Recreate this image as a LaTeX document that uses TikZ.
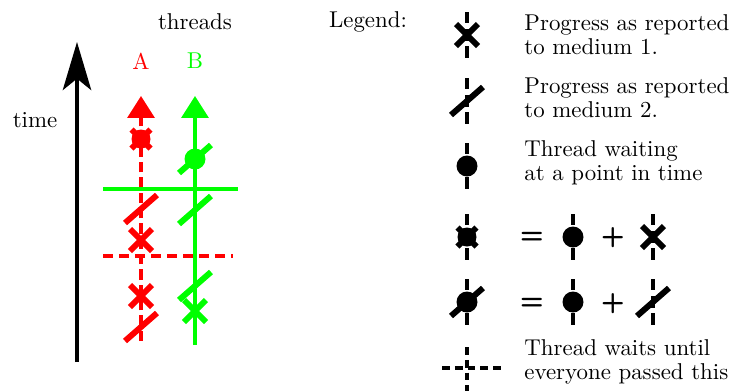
\documentclass[tikz,border=0pt]{standalone}
\usepackage{xcolor}
\usetikzlibrary{arrows.meta,positioning}
\definecolor{ThreadRed}{HTML}{FF0000}
\definecolor{ThreadGreen}{HTML}{00FF00}

\tikzset{
  thread/.style={line width=1.4pt},
  dashed thread/.style={thread, dash pattern=on 4.5pt off 2.2pt},
  marker/.style={line width=2.6pt},
  stub/.style={line width=1.6pt, dash pattern=on 5pt off 2.5pt},
  pics/xmark/.style={code={
    \draw[marker] (-11,-11) -- (11,11) (-11,11) -- (11,-11);
  }},
  pics/slashmark/.style={code={
    \draw[marker] (-16,14) -- (16,-14);
  }},
  pics/waitdot/.style={code={
    \fill (0,0) circle (10.5);
  }},
  pics/waitx/.style={code={
    \fill (0,0) circle (9.5);
    \draw[marker] (-9.5,-9.5) -- (9.5,9.5) (-9.5,9.5) -- (9.5,-9.5);
  }},
  pics/waitslash/.style={code={
    \fill (0,0) circle (10.5);
    \draw[marker] (-16,14) -- (16,-14);
  }},
  pics/legstub/.style={code={
    \draw[stub] (0,-23) -- (0,23);
  }}
}

\begin{document}
\begin{tikzpicture}[x=0.437pt, y=-0.437pt,
    every node/.style={font=\fontsize{10}{10.5}\selectfont, inner sep=0pt}]
  \useasboundingbox (0,0) rectangle (732,391);

  % time axis
  \coordinate (t0) at (77,362);
  \coordinate (t1) at (77,42);
  \draw[line width=1.6pt, -{Stealth[length=21pt, width=12.4pt, inset=5pt]}] (t0) -- (t1);
  \node (time) at (35,120) {time};
  \node (threads) at (195,22) {threads};

  % threads
  \node[text=ThreadRed] (labelA) at (141,61) {A};
  \node[text=ThreadGreen] (labelB) at (195,61) {B};
  \coordinate (A0) at (141,341);
  \coordinate (A1) at (141,96);
  \coordinate (B0) at (195,345);
  \coordinate (B1) at (195,96);
  \draw[ThreadRed, dashed thread, -{Triangle[length=9.6pt, width=11.8pt]}] (A0) -- (A1);
  \draw[ThreadGreen, thread, -{Triangle[length=9.6pt, width=11.8pt]}] (B0) -- (B1);

  % barriers
  \coordinate (gl) at (103,189);
  \coordinate (gr) at (238,189);
  \coordinate (rl) at (103,256);
  \coordinate (rr) at (233,256);
  \draw[ThreadGreen, thread] (gl) -- (gr);
  \draw[ThreadRed, thread, dash pattern=on 4.5pt off 2.5pt] (rl) -- (rr);

  % marks on A
  \pic[ThreadRed] at (141,139) {waitx};
  \pic[ThreadRed] at (141,209) {slashmark};
  \pic[ThreadRed] at (141,240) {xmark};
  \pic[ThreadRed] at (141,296) {xmark};
  \pic[ThreadRed] at (141,327) {slashmark};

  % marks on B
  \pic[ThreadGreen] at (195,159) {waitslash};
  \pic[ThreadGreen] at (195,210) {slashmark};
  \pic[ThreadGreen] at (195,286) {slashmark};
  \pic[ThreadGreen] at (195,311) {xmark};

  % legend
  \node (legend) at (368,22) {Legend:};

  \pic at (467,35) {legstub};
  \pic at (467,35) {xmark};
  \node[anchor=west, align=left] (medOne) at (524,35) {Progress as reported\\to medium 1.};

  \pic at (467,101) {legstub};
  \pic at (467,101) {slashmark};
  \node[anchor=west, align=left] (medTwo) at (524,98) {Progress as reported\\to medium 2.};

  \pic at (467,166) {legstub};
  \pic at (467,166) {waitdot};
  \node[anchor=west, align=left] (waiting) at (524,163) {Thread waiting\\at a point in time};

  \pic at (467,237) {legstub};
  \pic at (467,237) {waitx};
  \node[font=\large\sffamily\bfseries] (eqOne) at (532,238) {=};
  \pic at (573,237) {legstub};
  \pic at (573,237) {waitdot};
  \node[font=\large\sffamily\bfseries] (plusOne) at (613,238) {+};
  \pic at (653,237) {legstub};
  \pic at (653,237) {xmark};

  \pic at (467,302) {legstub};
  \pic at (467,302) {waitslash};
  \node[font=\large\sffamily\bfseries] (eqTwo) at (532,304) {=};
  \pic at (573,302) {legstub};
  \pic at (573,302) {waitdot};
  \node[font=\large\sffamily\bfseries] (plusTwo) at (613,304) {+};
  \pic at (653,302) {legstub};
  \pic at (653,302) {slashmark};

  \coordinate (cu) at (467,347);
  \coordinate (cd) at (467,391);
  \coordinate (cl) at (442,368);
  \coordinate (cr) at (503,368);
  \draw[line width=1.6pt, dash pattern=on 3.4pt off 2.2pt] (cu) -- (cd);
  \draw[line width=1.6pt, dash pattern=on 3.4pt off 2.2pt] (cl) -- (cr);
  \node[anchor=west, align=left] (barrier) at (524,362) {Thread waits until\\everyone passed this};
\end{tikzpicture}
\end{document}
